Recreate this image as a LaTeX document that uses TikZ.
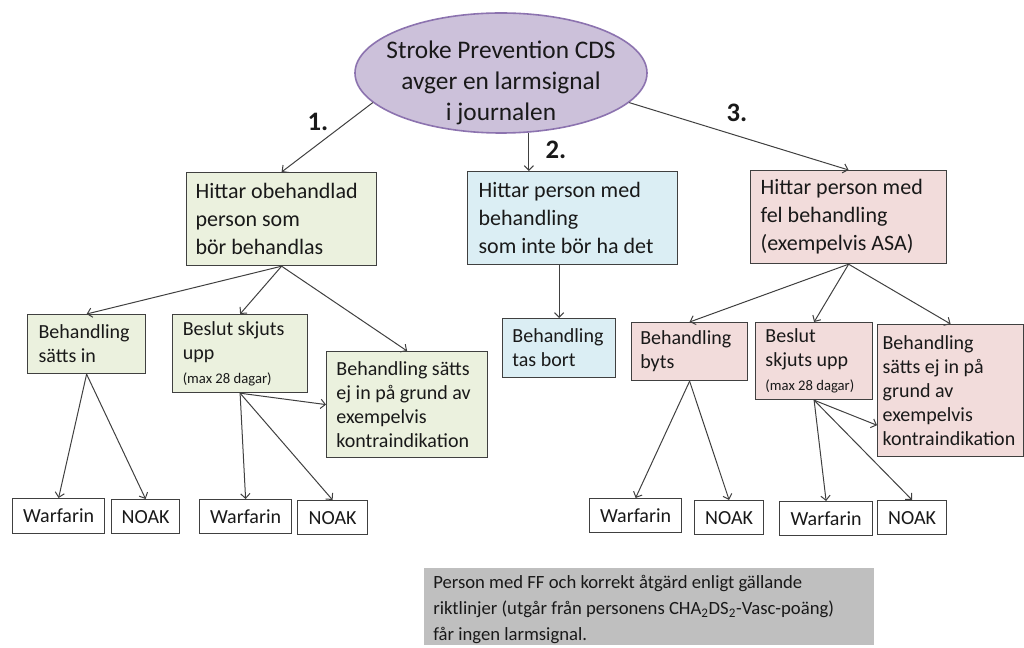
\documentclass[tikz,border=0pt]{standalone}
\usepackage{fontspec}
\setmainfont{Carlito}
\usetikzlibrary{shapes.geometric,arrows.meta}
\definecolor{ellfill}{RGB}{204,193,218}
\definecolor{elldraw}{RGB}{140,115,175}
\definecolor{gfill}{RGB}{235,241,222}
\definecolor{bfill}{RGB}{219,238,244}
\definecolor{pfill}{RGB}{242,220,219}
\definecolor{nfill}{RGB}{191,191,191}
\definecolor{edgec}{RGB}{64,64,64}
\definecolor{txt}{RGB}{25,25,25}
\newcommand{\maxd}{{\fontsize{11}{13}\selectfont (max 28 dagar)}}
% style, name, x1, y1, x2, y2, text width, text
\newcommand{\bx}[8]{\node[#1, anchor=north west, minimum width={(#5-#3)*0.75pt},
  minimum height={(#6-#4)*0.75pt}, text width=#7] (#2) at (#3,#4) {#8};}
\begin{document}
\begin{tikzpicture}[x=0.75pt,y=-0.75pt,
  box/.style={draw=edgec, line width=0.9pt, inner sep=0pt, align=flush left, text=txt,
    font=\fontsize{15}{18}\selectfont},
  big/.style={font=\fontsize{16.5}{21}\selectfont},
  gbox/.style={box, fill=gfill},
  bbox/.style={box, fill=bfill},
  pbox/.style={box, fill=pfill},
  wbox/.style={box, fill=white, align=flush center},
  ell/.style={ellipse, draw=elldraw, line width=1.2pt, fill=ellfill,
    inner xsep=-12pt, inner ysep=-12pt,
    minimum width=219pt, minimum height=90pt, align=flush center, text=txt,
    font=\fontsize{19}{23}\selectfont},
  lbl/.style={font=\bfseries\fontsize{20}{24}\selectfont, text=txt, inner sep=0pt},
  arr/.style={draw=edgec, line width=0.75pt, -{Straight Barb[length=3.5pt,width=7pt]}},
  note/.style={fill=nfill, inner sep=0pt, align=flush left, text=txt,
    font=\fontsize{14}{19.5}\selectfont},
]
\useasboundingbox (0,0) rectangle (1024,648);

\node[ell] (top) at (501,73) {\rule{0pt}{28pt}Stroke Prevention CDS\\avger en larmsignal\\i journalen};

% level 1
\bx{gbox,big}{g1}{186}{172}{376}{265}{129pt}{Hittar obehandlad\\person som\\bör behandlas}
\bx{bbox,big}{m1}{467}{171}{677}{264}{141pt}{Hittar person med\\behandling\\som inte bör ha det}
\bx{pbox,big}{f1}{750}{170}{946}{263}{132pt}{Hittar person med\\fel behandling\\(exempelvis ASA)}

% level 2 left
\bx{gbox}{g2}{27}{314}{145}{373}{72pt}{Behandling\\sätts in}
\bx{gbox}{g3}{172}{314}{307}{392}{86pt}{Beslut skjuts\\upp\\\maxd}
\bx{gbox}{g4}{326}{351}{487}{457}{106pt}{Behandling sätts\\ej in på grund av\\exempelvis\\kontraindikation}

% level 2 middle
\bx{bbox}{tb}{502}{318}{615}{377}{70pt}{Behandling\\tas bort}

% level 2 right
\bx{pbox}{p2}{631}{322}{747}{380}{74pt}{Behandling\\byts}
\bx{pbox}{p3}{755}{322}{872}{399}{73pt}{Beslut\\skjuts upp\\\maxd}
\bx{pbox}{p4}{877}{324}{1023}{456}{102pt}{Behandling\\sätts ej in på\\grund av\\exempelvis\\kontraindikation}

% level 3
\bx{wbox}{w1}{12}{498}{104}{533}{69pt}{Warfarin}
\bx{wbox}{n1}{111}{499}{179}{533}{51pt}{NOAK}
\bx{wbox}{w2}{199}{499}{291}{533}{69pt}{Warfarin}
\bx{wbox}{n2}{297}{500}{367}{534}{52pt}{NOAK}
\bx{wbox}{w3}{589}{498}{681}{532}{69pt}{Warfarin}
\bx{wbox}{n3}{694}{500}{763}{534}{51pt}{NOAK}
\bx{wbox}{w4}{779}{501}{872}{535}{69pt}{Warfarin}
\bx{wbox}{n4}{877}{500}{946}{534}{51pt}{NOAK}

% labels
\node[lbl] (l1) at (318,122) {1.};
\node[lbl] (l2) at (556,150) {2.};
\node[lbl] (l3) at (737,113) {3.};

% note
\bx{note}{nt}{424}{568}{874}{645}{324pt}{\rule{0pt}{14.5pt}Person med FF och korrekt åtgärd enligt gällande\\riktlinjer (utgår från personens CHA\textsubscript{2}DS\textsubscript{2}-Vasc-poäng)\\får ingen larmsignal.}

% connectors
\draw[arr] (top.193) -- (g1.north);
\draw[arr] (top.295) -- (top.295 |- m1.north);
\draw[arr] (top.347) -- (f1.north);

\draw[arr] (g1.south) -- (g2.north);
\draw[arr] (g1.south) -- (g3.north);
\draw[arr] (g1.south) -- (g4.north);
\draw[arr] (g2.south) -- (w1.north);
\draw[arr] (g2.south) -- (n1.north);
\draw[arr] (g3.south) -- (g4.west);
\draw[arr] (g3.south) -- (w2.north);
\draw[arr] (g3.south) -- (n2.north);

\draw[arr] (m1.south -| tb.north) -- (tb.north);

\draw[arr] (f1.south) -- (p2.north);
\draw[arr] (f1.south) -- (p3.north);
\draw[arr] (f1.south) -- (p4.north);
\draw[arr] (p2.south) -- (w3.north);
\draw[arr] (p2.south) -- (n3.north);
\draw[arr] (p3.south) -- ([yshift=-26pt]p4.west);
\draw[arr] (p3.south) -- (w4.north);
\draw[arr] (p3.south) -- (n4.north);
\end{tikzpicture}
\end{document}
